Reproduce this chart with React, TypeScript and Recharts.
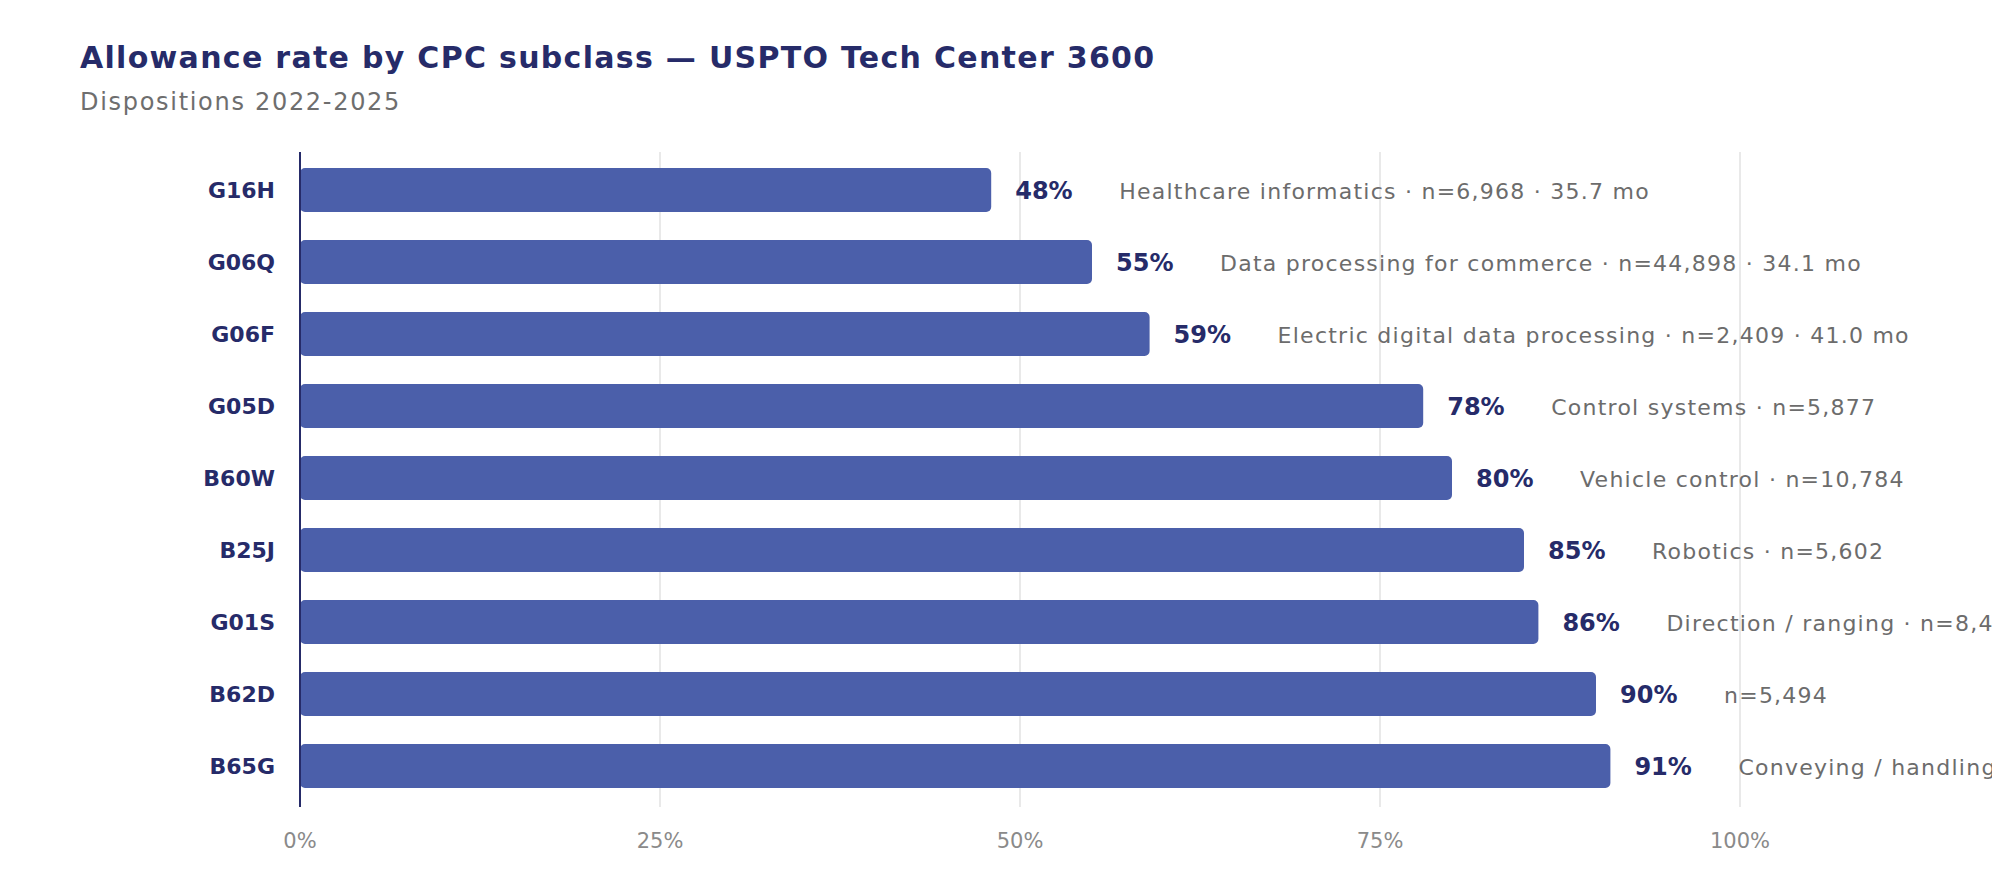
import { BarChart, Bar, XAxis, YAxis, CartesianGrid, LabelList } from 'recharts'

const categories = ['G16H', 'G06Q', 'G06F', 'G05D', 'B60W', 'B25J', 'G01S', 'B62D', 'B65G']
const rates = [48, 55, 59, 78, 80, 85, 86, 90, 91]
const notes = [
  'Healthcare informatics · n=6,968 · 35.7 mo',
  'Data processing for commerce · n=44,898 · 34.1 mo',
  'Electric digital data processing · n=2,409 · 41.0 mo',
  'Control systems · n=5,877',
  'Vehicle control · n=10,784',
  'Robotics · n=5,602',
  'Direction / ranging · n=8,463',
  'n=5,494',
  'Conveying / handling',
]
const xTicks = [0, 25, 50, 75, 100]

const data = categories.map((code, i) => ({ code, rate: rates[i], note: notes[i] }))

const NAVY = '#262b69'
const BAR = '#4b5faa'
const FONT = '"DejaVu Sans", sans-serif'

// works for both the flat props and the viewBox form LabelList may hand us
function box(props: any) {
  const vb = props.viewBox || {}
  return {
    x: props.x ?? vb.x,
    y: props.y ?? vb.y,
    width: props.width ?? vb.width,
    height: props.height ?? vb.height,
  }
}

function RateLabel(props: any) {
  const { x, y, width, height } = box(props)
  return (
    <text x={x + width + 24} y={y + height / 2 + 9} fill={NAVY} fontSize={24} fontWeight={700} fontFamily={FONT}>
      {`${props.value}%`}
    </text>
  )
}

function NoteLabel(props: any) {
  const { x, y, width, height } = box(props)
  return (
    <text
      x={x + width + 128}
      y={y + height / 2 + 9}
      fill="#6c6c6c"
      fontSize={22}
      fontFamily={FONT}
      style={{ letterSpacing: '1.25px' }}
    >
      {props.value}
    </text>
  )
}

export default function App() {
  return (
    <div style={{ position: 'relative', width: 2000, height: 896, margin: -8, background: '#fff', fontFamily: FONT }}>
      <div
        style={{
          position: 'absolute',
          left: 80,
          top: 43,
          fontSize: 30,
          lineHeight: '30px',
          fontWeight: 700,
          letterSpacing: '1.3px',
          color: NAVY,
          whiteSpace: 'nowrap',
        }}
      >
        Allowance rate by CPC subclass — USPTO Tech Center 3600
      </div>
      <div
        style={{
          position: 'absolute',
          left: 80,
          top: 90,
          fontSize: 24,
          lineHeight: '24px',
          letterSpacing: '1.7px',
          color: '#6e6e6e',
          whiteSpace: 'nowrap',
        }}
      >
        Dispositions 2022-2025
      </div>
      <div style={{ position: 'absolute', left: 0, top: 0 }}>
        <BarChart
          width={2000}
          height={896}
          data={data}
          layout="vertical"
          margin={{ top: 152, right: 260, bottom: 59, left: 0 }}
        >
          <CartesianGrid horizontal={false} stroke="#e2e2e2" strokeWidth={1.5} />
          <XAxis
            type="number"
            domain={[0, 100]}
            ticks={xTicks}
            tickFormatter={(v) => `${v}%`}
            axisLine={false}
            tickLine={false}
            tickSize={0}
            tickMargin={26}
            height={30}
            tick={{ fill: '#8a8a8a', fontSize: 21, fontFamily: FONT }}
          />
          <YAxis
            type="category"
            dataKey="code"
            width={300}
            padding={{ top: 2, bottom: 5 }}
            axisLine={{ stroke: NAVY, strokeWidth: 2 }}
            tickLine={false}
            tickSize={0}
            tickMargin={25}
            tick={{ fill: NAVY, fontSize: 22, fontWeight: 700, fontFamily: FONT }}
          />
          <Bar dataKey="rate" fill={BAR} barSize={44} radius={5} isAnimationActive={false}>
            <LabelList dataKey="rate" content={RateLabel} />
            <LabelList dataKey="note" content={NoteLabel} />
          </Bar>
        </BarChart>
      </div>
    </div>
  )
}
